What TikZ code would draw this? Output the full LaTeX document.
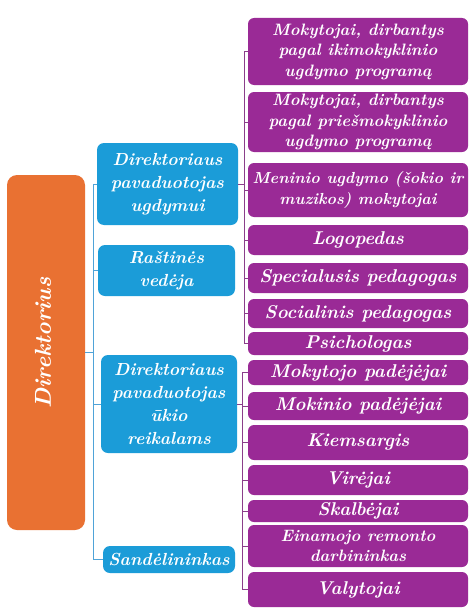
\documentclass[tikz,border=0pt]{standalone}
\usepackage{fontspec}
\definecolor{orng}{HTML}{E97132}
\definecolor{blu}{HTML}{1B9CD8}
\definecolor{purp}{HTML}{9A2A96}
\definecolor{bline}{HTML}{4FA3D8}
\definecolor{pline}{HTML}{8A3F8A}
\begin{document}
\begin{tikzpicture}[x=1pt,y=-1pt,
  dirbox/.style={fill=orng, rounded corners=10pt, text=white, inner sep=0pt, minimum width=78pt, minimum height=355pt},
  blubox/.style={fill=blu, rounded corners=7pt, text=white, inner sep=0pt, align=center,
     font=\fontsize{17.5}{23}\selectfont\bfseries\itshape},
  purbox/.style={fill=purp, rounded corners=6pt, text=white, inner sep=0pt, align=center,
     minimum width=220pt, font=\fontsize{16.5}{20.5}\selectfont\bfseries\itshape},
  purone/.style={purbox, font=\fontsize{18.5}{20}\selectfont\bfseries\itshape},
  bluline/.style={draw=bline, line width=0.9pt},
  purline/.style={draw=pline, line width=0.9pt}]
\useasboundingbox (0,0) rectangle (474,610);
\fill[white] (0,0) rectangle (474,610);
% director
\node[dirbox] (dir) at (46,352.5) {};
\node[text=white, rotate=90, font=\fontsize{23}{25}\selectfont\bfseries\itshape] (dirt) at (43,343) {Direktorius};
% blue boxes
\node[blubox, minimum width=141pt, minimum height=82pt] (b1) at (167.5,184) {Direktoriaus\\pavaduotojas\\ugdymui};
\node[blubox, minimum width=137pt, minimum height=51pt] (b2) at (166.5,270.5) {Raštinės\\vedėja};
\node[blubox, minimum width=136pt, minimum height=98pt] (b3) at (169,404) {Direktoriaus\\pavaduotojas\\ūkio\\reikalams};
\node[blubox, minimum width=132pt, minimum height=27pt] (b4) at (169,559.5) {Sandėlininkas};
% purple boxes
\node[purbox, minimum height=67pt] (p1) at (358,51.5) {Mokytojai, dirbantys\\pagal ikimokyklinio\\ugdymo programą};
\node[purbox, minimum height=60pt] (p2) at (358,122) {Mokytojai, dirbantys\\pagal priešmokyklinio\\ugdymo programą};
\node[purbox, minimum height=54pt, font=\fontsize{16}{20.5}\selectfont\bfseries\itshape] (p3) at (358,190) {Meninio ugdymo (šokio ir\\muzikos) mokytojai};
\node[purone, minimum height=30pt] (p4) at (358,240) {Logopedas};
\node[purone, minimum height=30pt] (p5) at (358,278) {Specialusis pedagogas};
\node[purone, minimum height=29pt] (p6) at (358,313.5) {Socialinis pedagogas};
\node[purone, minimum height=23pt] (p7) at (358,343.5) {Psichologas};
\node[purone, minimum height=25pt] (p8) at (358,372.5) {Mokytojo padėjėjai};
\node[purone, minimum height=28pt] (p9) at (358,406) {Mokinio padėjėjai};
\node[purone, minimum height=35pt] (p10) at (358,442.5) {Kiemsargis};
\node[purone, minimum height=30pt] (p11) at (358,480) {Virėjai};
\node[purone, minimum height=22pt] (p12) at (358,511) {Skalbėjai};
\node[purbox, minimum height=42pt] (p13) at (358,546) {Einamojo remonto\\darbininkas};
\node[purone, minimum height=35pt] (p14) at (358,589.5) {Valytojai};
% blue connectors
\foreach \b in {b1,b2,b3,b4}
  \draw[bluline] (dir.east) -- ++(8,0) |- (\b.west);
% purple connectors, group 1
\foreach \p in {p1,p2,p3,p4,p5,p6,p7}
  \draw[purline] (b1.east) -- ++(6,0) |- (\p.west);
% purple connectors, group 2
\foreach \p in {p8,p9,p10,p11,p12,p13,p14}
  \draw[purline] (b3.east) -- ++(5,0) |- (\p.west);
\end{tikzpicture}
\end{document}
